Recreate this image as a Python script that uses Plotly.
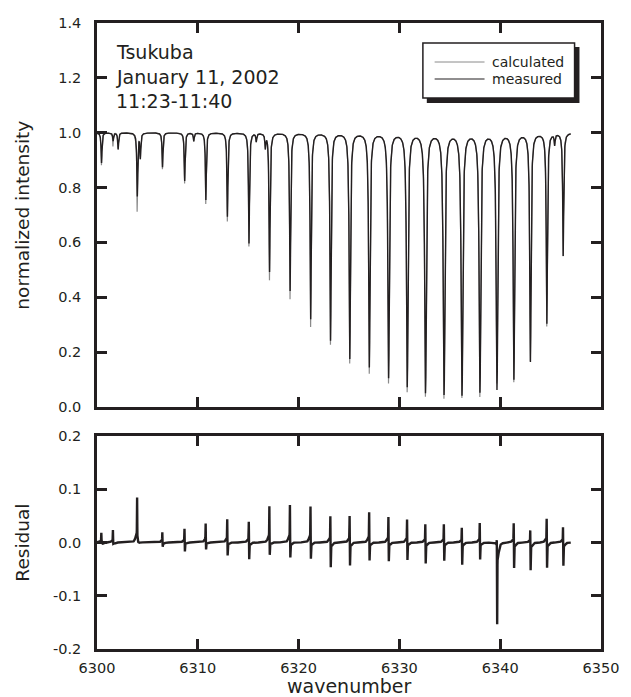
import numpy as np
import plotly.graph_objects as go

# ---------------- data ----------------
# absorption lines: centre wavenumber and minimum normalized intensity
line_centers = [6300.45, 6301.6, 6302.1, 6304.0, 6304.3, 6306.5, 6308.7, 6309.6, 6310.8, 6312.94,
                6315.08, 6315.8, 6316.7, 6317.12, 6319.16, 6321.2, 6323.17, 6325.08, 6327.02, 6328.93,
                6330.78, 6332.59, 6334.43, 6336.21, 6337.99, 6339.68, 6341.36, 6343.0, 6344.63, 6345.4,
                6346.25]
line_minima = [0.89, 0.97, 0.94, 0.77, 0.91, 0.875, 0.825, 0.97, 0.755, 0.694,
               0.597, 0.97, 0.95, 0.493, 0.424, 0.321, 0.242, 0.176, 0.145, 0.105,
               0.072, 0.05, 0.044, 0.041, 0.052, 0.062, 0.10, 0.165, 0.305, 0.96,
               0.552]

# residual spikes at the lines: positive and negative peak amplitudes
resid_centers = [6300.45, 6301.6, 6304.0, 6306.5, 6308.7, 6310.8, 6312.94, 6315.08, 6317.12, 6319.16,
                 6321.2, 6323.17, 6325.08, 6327.02, 6328.93, 6330.78, 6332.59, 6334.43, 6336.21, 6337.99,
                 6339.68, 6341.36, 6343.0, 6344.63, 6346.25]
resid_pos = [0.018, 0.023, 0.08, 0.02, 0.027, 0.036, 0.045, 0.042, 0.068, 0.071,
             0.069, 0.054, 0.054, 0.059, 0.051, 0.046, 0.039, 0.038, 0.033, 0.04,
             0.029, 0.042, 0.03, 0.05, 0.034]
resid_neg = [0.0, 0.005, 0.01, 0.01, 0.02, 0.018, 0.03, 0.036, 0.033, 0.038,
             0.04, 0.052, 0.049, 0.041, 0.041, 0.038, 0.043, 0.038, 0.044, 0.036,
             0.146, 0.051, 0.053, 0.052, 0.046]

x_start, x_end = 6300.0, 6347.0
x_ticks = [6300, 6310, 6320, 6330, 6340, 6350]
y_ticks = [0.0, 0.2, 0.4, 0.6, 0.8, 1.0, 1.2, 1.4]
y_tick_text = ["0.0", "0.2", "0.4", "0.6", "0.8", "1.0", "1.2", "1.4"]
r_ticks = [-0.2, -0.1, 0.0, 0.1, 0.2]
r_tick_text = ["-0.2", "-0.1", "0.0", "0.1", "0.2"]

annot_lines = ["Tsukuba", "January 11, 2002", "11:23-11:40"]
legend_names = ["calculated", "measured"]

# ---------------- spectrum built from the line list ----------------
wn = np.round(np.arange(x_start, x_end + 0.005, 0.01), 2)
gamma = 0.05
tau = np.zeros_like(wn)
for c, m in zip(line_centers, line_minima):
    tau += -np.log(m) * gamma**2 / ((wn - c) ** 2 + gamma**2)
measured = np.exp(-tau)

g_r = 0.015
g_b = 0.12
residual = np.zeros_like(wn)
for c, p, n in zip(resid_centers, resid_pos, resid_neg):
    residual += p * g_r**2 / ((wn - (c - 0.02)) ** 2 + g_r**2)
    residual -= n * g_r**2 / ((wn - (c + 0.02)) ** 2 + g_r**2)
    # broader dispersive wiggle round each line
    residual += 0.15 * p * g_b**2 / ((wn - (c - 0.12)) ** 2 + g_b**2)
    residual -= 0.15 * max(n, 0.02) * g_b**2 / ((wn - (c + 0.12)) ** 2 + g_b**2)

calculated = measured - residual

INK = "#231f20"
GRAY = "#8a8a8a"
FONT = "DejaVu Sans"

fig = go.Figure()
fig.add_trace(go.Scatter(x=wn, y=calculated, mode="lines", name=legend_names[0],
                         line=dict(color=GRAY, width=1.2), xaxis="x", yaxis="y"))
fig.add_trace(go.Scatter(x=wn, y=measured, mode="lines", name=legend_names[1],
                         line=dict(color=INK, width=1.4), xaxis="x", yaxis="y"))
fig.add_trace(go.Scatter(x=wn, y=residual, mode="lines", name="residual",
                         line=dict(color=INK, width=2.4), xaxis="x2", yaxis="y2"))

axis_common = dict(showline=True, linecolor=INK, linewidth=2.5, mirror="ticks",
                   ticks="inside", ticklen=10, tickwidth=2.5, tickcolor=INK,
                   showgrid=False, zeroline=False,
                   tickfont=dict(family=FONT, size=14.5, color=INK))

fig.update_layout(
    width=631, height=697,
    margin=dict(l=97, r=19, t=23, b=48),
    plot_bgcolor="white", paper_bgcolor="white",
    showlegend=False,
    font=dict(family=FONT, color=INK),
    xaxis=dict(domain=[0, 1], range=[6300, 6350], anchor="y", tickvals=x_ticks,
               showticklabels=False, **axis_common),
    yaxis=dict(domain=[0.3866, 1], range=[0, 1.4], anchor="x", tickvals=y_ticks,
               ticktext=y_tick_text, ticklabelstandoff=10, **axis_common),
    xaxis2=dict(domain=[0, 1], range=[6300, 6350], anchor="y2", tickvals=x_ticks,
                ticktext=[str(t) for t in x_ticks], ticklabelstandoff=4, **axis_common),
    yaxis2=dict(domain=[0, 0.3403], range=[-0.2, 0.2], anchor="x2", tickvals=r_ticks,
                ticktext=r_tick_text, ticklabelstandoff=10, **axis_common),
)

# pixel -> paper helpers (plot area: x 97..612, y 23..649)
def px(x):
    return (x - 97) / 515.0

def py(y):
    return (649 - y) / 626.0

annotations = []
for txt, yy in zip(annot_lines, [52, 77, 101]):
    annotations.append(dict(text=txt, x=px(114), y=py(yy), xref="paper", yref="paper",
                            xanchor="left", yanchor="middle", showarrow=False,
                            font=dict(family=FONT, size=19, color=INK)))
annotations.append(dict(text="normalized intensity", x=px(20), y=py(215), xref="paper", yref="paper",
                        textangle=-90, showarrow=False, xanchor="center", yanchor="middle",
                        font=dict(family=FONT, size=18.5, color=INK)))
annotations.append(dict(text="Residual", x=px(20), y=py(543), xref="paper", yref="paper",
                        textangle=-90, showarrow=False, xanchor="center", yanchor="middle",
                        font=dict(family=FONT, size=18.5, color=INK)))
annotations.append(dict(text="wavenumber", x=px(355), y=py(686), xref="paper", yref="paper",
                        showarrow=False, xanchor="center", yanchor="middle",
                        font=dict(family=FONT, size=19, color=INK)))
for name, yy in zip(legend_names, [62, 79]):
    annotations.append(dict(text=name, x=px(499), y=py(yy), xref="paper", yref="paper",
                            xanchor="left", yanchor="middle", showarrow=False,
                            font=dict(family=FONT, size=14, color=INK)))

shapes = [
    dict(type="rect", xref="paper", yref="paper", x0=px(434), x1=px(590), y0=py(103), y1=py(47),
         fillcolor=INK, line=dict(width=0)),
    dict(type="rect", xref="paper", yref="paper", x0=px(430), x1=px(585), y0=py(98), y1=py(43),
         fillcolor="white", line=dict(color=INK, width=1.5)),
    dict(type="line", xref="paper", yref="paper", x0=px(442), x1=px(493), y0=py(62), y1=py(62),
         line=dict(color=GRAY, width=1)),
    dict(type="line", xref="paper", yref="paper", x0=px(442), x1=px(493), y0=py(79), y1=py(79),
         line=dict(color=INK, width=1.2)),
]
fig.update_layout(annotations=annotations, shapes=shapes)

fig.write_html("out.html")
